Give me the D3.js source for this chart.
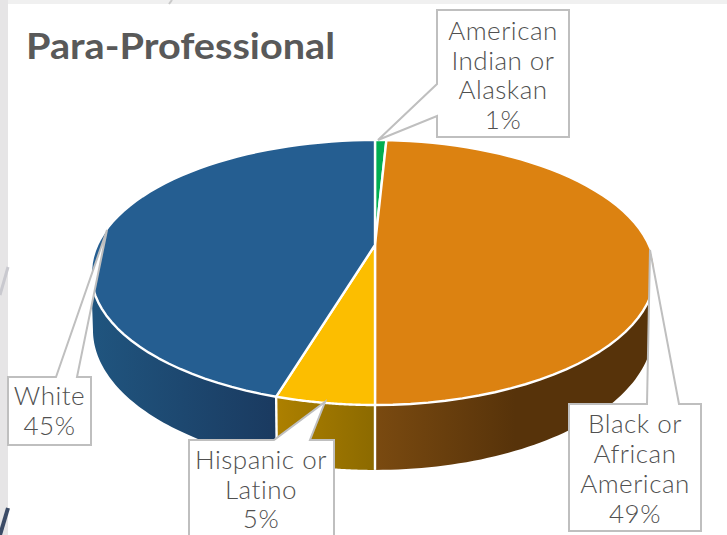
<!DOCTYPE html>
<html><head><meta charset="utf-8">
<script src="https://cdn.jsdelivr.net/npm/d3@7"></script>
<style>html,body{margin:0;padding:0;background:#fff;overflow:hidden}svg{display:block}</style>
</head><body><svg id="c" width="727" height="535"></svg>
<script>
const chartTitle = "Para-Professional";
const categories = ["American Indian or Alaskan","Black or African American","Hispanic or Latino","White"];
const values = [0.8,49.2,4.6,45.4];
const labelLines = [["American","Indian or","Alaskan"],["Black or","African","American"],["Hispanic or","Latino"],["White"]];
const colors = ["#00ae50","#dc8211","#fcbe00","#255e91"];
const sideColors = [["#007a38","#007a38"],["#7a4a10","#57330a"],["#ad8000","#8c6a00"],["#20557f","#1a3a60"]];

const svg = d3.select("#c");
const FONT = "Lato, 'Open Sans', sans-serif";
const cx=375, cy=245, a=274, b=126.8, k=0.2075;
const rim = t=>{const u=Math.sin(t),v=-Math.cos(t),w=1-k*v;return [cx+(u<0?a*1.014:a)*u/w, cy+b*v/w];};
const floor = t=>{const p=rim(t);return [cx+(p[0]-cx)*0.993, 330+(p[1]-272.5)*1.056];};
const sample=(f,s,e)=>d3.range(0,61).map(i=>f(s+(e-s)*i/60));
const line=d3.line();
const pie=d3.pie().sort(null).value(d=>d)(values);

const defs=svg.append("defs");
// slide backdrop
svg.append("rect").attr("width",727).attr("height",4).attr("fill","#f0f0f0");
svg.append("rect").attr("width",8).attr("height",535).attr("fill","#e6e5e6");
svg.append("path").attr("d","M0,295L8,267").attr("stroke","#c9c9cf").attr("stroke-width",3).attr("fill","none");
svg.append("path").attr("d","M0,535L8,508").attr("stroke","#3b4b66").attr("stroke-width",4).attr("fill","none");
svg.append("path").attr("d","M169,4L172,0").attr("stroke","#c9c9c9").attr("stroke-width",2).attr("fill","none");

const vis0=Math.acos(-k), vis1=2*Math.PI-vis0;
const sideG=svg.append("g");
pie.forEach((d,i)=>{
  const s=Math.max(d.startAngle,vis0), e=Math.min(d.endAngle,vis1);
  if(e<=s) return;
  const A=rim(s),B=rim(e);
  const x0=Math.min(A[0],B[0]),x1=Math.max(A[0],B[0]);
  const g=defs.append("linearGradient").attr("id","g"+i).attr("gradientUnits","userSpaceOnUse")
    .attr("x1",x0).attr("x2",x1).attr("y1",0).attr("y2",0);
  if(i===1){
    g.append("stop").attr("offset",0).attr("stop-color",sideColors[i][0]);
    g.append("stop").attr("offset",0.5).attr("stop-color",sideColors[i][1]);
    g.append("stop").attr("offset",1).attr("stop-color",sideColors[i][1]);
  } else {
    g.append("stop").attr("offset",0).attr("stop-color",sideColors[i][0]);
    g.append("stop").attr("offset",1).attr("stop-color",sideColors[i][1]);
  }
  const pts=sample(rim,s,e).concat(sample(floor,e,s));
  sideG.append("path").attr("d",line(pts)+"Z").attr("fill","url(#g"+i+")");
  if(s>vis0){
    sideG.append("path").attr("d",line([rim(s),floor(s)])).attr("stroke","#fff").attr("stroke-width",2.4).attr("fill","none");
  }
});
// top face
svg.append("g").selectAll("path").data(pie).join("path")
  .attr("d",d=>line([[cx,cy]].concat(sample(rim,d.startAngle,d.endAngle)))+"Z")
  .attr("fill",(d,i)=>colors[i]).attr("stroke","#fff").attr("stroke-width",2.4).attr("stroke-linejoin","round");

svg.append("text").text(chartTitle).attr("x",26).attr("y",59).attr("font-family",FONT).attr("font-weight",700)
  .attr("font-size",37).attr("fill","#595959").attr("textLength",309).attr("lengthAdjust","spacingAndGlyphs");

const pct=i=>Math.round(values[i])+"%";
const boxes=[
 {x0:437,x1:569,y0:10,y1:137,cxT:503,baseY:40,step:29.5,tip:[[437,84],[378,140],[437,116]]},
 {x0:569,x1:701,y0:404,y1:531,cxT:635,baseY:433,step:30,tip:[[647,404],[650,250],[679,404]]},
 {x0:189,x1:334,y0:440,y1:560,cxT:261,baseY:469,step:29.5,tip:[[274,440],[325,402],[310,440]]},
 {x0:8,x1:91,y0:377,y1:445,cxT:49.5,baseY:405,step:30,tip:[[56,377],[107,230],[77,377]]}
];
const labels=svg.append("g");
boxes.forEach((bx,i)=>{
  const P=bx.tip;
  let outline;
  if(i===0){
    outline=[[bx.x0,bx.y0],[bx.x1,bx.y0],[bx.x1,bx.y1],[bx.x0,bx.y1],P[2],P[1],P[0]];
  } else {
    outline=[[bx.x0,bx.y0],P[0],P[1],P[2],[bx.x1,bx.y0],[bx.x1,bx.y1],[bx.x0,bx.y1]];
  }
  labels.append("path").attr("d",line(outline)+"Z").attr("fill","#fff").attr("stroke","#bfbfbf").attr("stroke-width",2);
  const lines=labelLines[i].concat([pct(i)]);
  lines.forEach((t,j)=>{
    labels.append("text").text(t).attr("x",bx.cxT).attr("y",bx.baseY+j*bx.step).attr("text-anchor","middle")
      .attr("font-family",FONT).attr("font-weight",300).attr("font-size",26).attr("letter-spacing",0.5).attr("fill","#505050");
  });
});
</script></body></html>
